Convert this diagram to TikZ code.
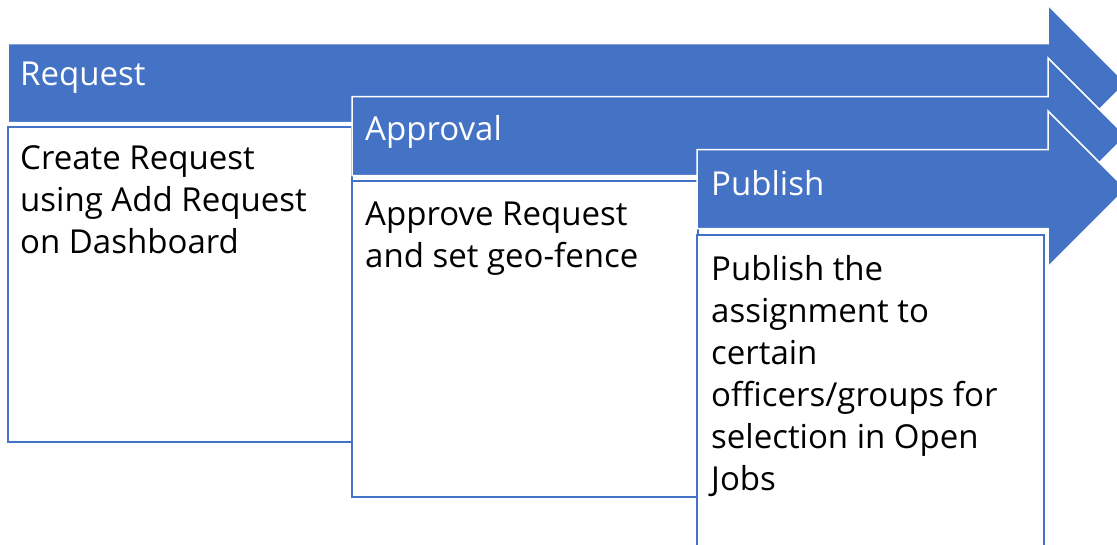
\documentclass[tikz,border=0pt]{standalone}
\usepackage{fontspec}
\setmainfont{Open Sans}
\definecolor{accent}{HTML}{4472C4}
\tikzset{
  band/.style={fill=accent, draw=white, line width=1.5pt, line join=miter},
  card/.style={fill=white, draw=accent, line width=1.5pt},
  headtext/.style={anchor=base west, inner sep=0pt, text=white, font=\fontsize{33}{42}\selectfont},
  bodytext/.style={anchor=base west, inner sep=0pt, text=black, font=\fontsize{33}{42}\selectfont},
}
% staggered arrow band: #1 = left end, #2 = vertical centre
\newcommand\stageband[2]{%
  \path[band] (#1,#2-39.5) -- (1048,#2-39.5) -- (1048,#2-78) -- (1126,#2)
    -- (1048,#2+78) -- (1048,#2+39.5) -- (#1,#2+39.5) -- cycle;}
\begin{document}
\begin{tikzpicture}[x=1pt, y=-1pt]
  \useasboundingbox (0,0) rectangle (1117,544);
  \clip (0,0) rectangle (1117,544);

  % stage 1
  \stageband{8}{83}
  \draw[card] (8,127) rectangle (352,442);
  % stage 2
  \stageband{352}{136}
  \draw[card] (352,181) rectangle (698,497);
  % stage 3
  \stageband{697}{189}
  \draw[card] (697,235) rectangle (1044,560);

  % headings
  \node[headtext] (h1) at (20,85) {Request};
  \node[headtext] (h2) at (365,140) {Approval};
  \node[headtext] (h3) at (711,195) {Publish};

  % descriptions
  \node[bodytext] (t1) at (20,169) {\parbox[t]{330pt}{Create Request\\using Add Request\\on Dashboard}};
  \node[bodytext] (t2) at (365,225) {\parbox[t]{330pt}{Approve Request\\and set geo-fence}};
  \node[bodytext] (t3) at (711,280) {\parbox[t]{330pt}{Publish the\\assignment to\\certain\\officers/groups for\\selection in Open\\Jobs}};
\end{tikzpicture}
\end{document}
